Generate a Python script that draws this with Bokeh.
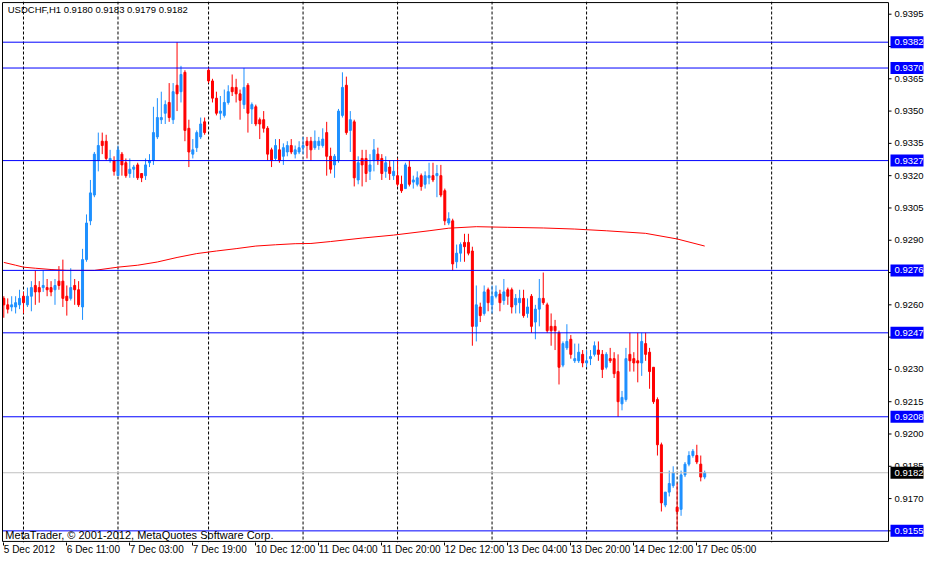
from bokeh.plotting import figure
from bokeh.models import Range1d, FixedTicker, Span, Label, ColumnDataSource
from bokeh.core.properties import value
from bokeh.embed import file_html
from bokeh.resources import INLINE

symbol = "USDCHF,H1"

opens = [0.9263, 0.9260, 0.9259, 0.9259, 0.9260, 0.9264, 0.9260, 0.9264, 0.9269, 0.9268,
         0.9268, 0.9268, 0.9268, 0.9267, 0.9271, 0.9271, 0.9264, 0.9263, 0.9269, 0.9267,
         0.9259, 0.9281, 0.9299, 0.9311, 0.9327, 0.9336, 0.9336, 0.9327, 0.9327, 0.9320,
         0.9330, 0.9326, 0.9321, 0.9323, 0.9325, 0.9321, 0.9320, 0.9326, 0.9327, 0.9338,
         0.9346, 0.9349, 0.9354, 0.9346, 0.9362, 0.9359, 0.9368, 0.9342, 0.9330, 0.9333,
         0.9338, 0.9345, 0.9369, 0.9364, 0.9356, 0.9349, 0.9348, 0.9354, 0.9361, 0.9361,
         0.9358, 0.9353, 0.9362, 0.9351, 0.9352, 0.9346, 0.9346, 0.9342, 0.9332, 0.9328,
         0.9332, 0.9329, 0.9331, 0.9334, 0.9330, 0.9331, 0.9333, 0.9336, 0.9336, 0.9333,
         0.9334, 0.9334, 0.9340, 0.9329, 0.9325, 0.9327, 0.9348, 0.9362, 0.9341, 0.9345,
         0.9318, 0.9328, 0.9328, 0.9322, 0.9327, 0.9330, 0.9328, 0.9322, 0.9324, 0.9320,
         0.9320, 0.9316, 0.9314, 0.9324, 0.9317, 0.9316, 0.9320, 0.9316, 0.9319, 0.9320,
         0.9320, 0.9320, 0.9313, 0.9298, 0.9299, 0.9280, 0.9284, 0.9289, 0.9289, 0.9285,
         0.9250, 0.9259, 0.9256, 0.9267, 0.9260, 0.9264, 0.9265, 0.9262, 0.9267, 0.9267,
         0.9260, 0.9261, 0.9263, 0.9256, 0.9264, 0.9252, 0.9258, 0.9263, 0.9260, 0.9250,
         0.9250, 0.9247, 0.9232, 0.9240, 0.9244, 0.9234, 0.9234, 0.9237, 0.9233, 0.9235,
         0.9237, 0.9239, 0.9237, 0.9231, 0.9235, 0.9235, 0.9229, 0.9214, 0.9216, 0.9237,
         0.9235, 0.9234, 0.9233, 0.9242, 0.9238, 0.9231, 0.9216, 0.9195, 0.9167, 0.9173,
         0.9176, 0.9166, 0.9165, 0.9181, 0.9186, 0.9190, 0.9190, 0.9186, 0.9180]

highs = [0.9264, 0.9263, 0.9264, 0.9264, 0.9267, 0.9266, 0.9268, 0.9271, 0.9276, 0.9271,
         0.9276, 0.9272, 0.9271, 0.9272, 0.9278, 0.9281, 0.9269, 0.9277, 0.9272, 0.9271,
         0.9286, 0.9302, 0.9318, 0.9331, 0.9340, 0.9340, 0.9339, 0.9332, 0.9329, 0.9334,
         0.9331, 0.9328, 0.9328, 0.9325, 0.9326, 0.9321, 0.9328, 0.9330, 0.9352, 0.9356,
         0.9359, 0.9355, 0.9363, 0.9363, 0.9382, 0.9371, 0.9369, 0.9346, 0.9337, 0.9341,
         0.9347, 0.9347, 0.9370, 0.9365, 0.9359, 0.9357, 0.9360, 0.9362, 0.9367, 0.9365,
         0.9360, 0.9370, 0.9363, 0.9354, 0.9353, 0.9347, 0.9350, 0.9343, 0.9333, 0.9337,
         0.9337, 0.9335, 0.9336, 0.9337, 0.9334, 0.9336, 0.9338, 0.9338, 0.9338, 0.9341,
         0.9338, 0.9342, 0.9345, 0.9333, 0.9330, 0.9351, 0.9368, 0.9366, 0.9350, 0.9346,
         0.9329, 0.9332, 0.9332, 0.9330, 0.9337, 0.9333, 0.9330, 0.9329, 0.9327, 0.9327,
         0.9328, 0.9320, 0.9326, 0.9327, 0.9320, 0.9322, 0.9321, 0.9322, 0.9326, 0.9326,
         0.9325, 0.9325, 0.9314, 0.9303, 0.9300, 0.9288, 0.9289, 0.9293, 0.9293, 0.9287,
         0.9269, 0.9261, 0.9269, 0.9268, 0.9269, 0.9269, 0.9267, 0.9272, 0.9268, 0.9268,
         0.9265, 0.9267, 0.9267, 0.9263, 0.9265, 0.9260, 0.9272, 0.9275, 0.9261, 0.9256,
         0.9253, 0.9248, 0.9243, 0.9251, 0.9246, 0.9242, 0.9242, 0.9239, 0.9239, 0.9239,
         0.9243, 0.9243, 0.9239, 0.9238, 0.9240, 0.9238, 0.9237, 0.9220, 0.9240, 0.9247,
         0.9238, 0.9247, 0.9247, 0.9247, 0.9240, 0.9231, 0.9217, 0.9196, 0.9173, 0.9183,
         0.9185, 0.9177, 0.9183, 0.9187, 0.9192, 0.9193, 0.9195, 0.9190, 0.9183]

lows = [0.9254, 0.9256, 0.9257, 0.9256, 0.9258, 0.9256, 0.9259, 0.9257, 0.9260, 0.9261,
        0.9266, 0.9264, 0.9264, 0.9260, 0.9267, 0.9259, 0.9255, 0.9262, 0.9260, 0.9259,
        0.9253, 0.9280, 0.9297, 0.9310, 0.9322, 0.9330, 0.9327, 0.9326, 0.9320, 0.9320,
        0.9320, 0.9319, 0.9319, 0.9319, 0.9318, 0.9317, 0.9318, 0.9324, 0.9325, 0.9337,
        0.9344, 0.9344, 0.9345, 0.9344, 0.9350, 0.9354, 0.9336, 0.9324, 0.9328, 0.9331,
        0.9337, 0.9339, 0.9363, 0.9354, 0.9348, 0.9346, 0.9347, 0.9353, 0.9357, 0.9354,
        0.9346, 0.9351, 0.9340, 0.9344, 0.9343, 0.9337, 0.9340, 0.9327, 0.9324, 0.9327,
        0.9326, 0.9325, 0.9329, 0.9330, 0.9328, 0.9330, 0.9330, 0.9328, 0.9327, 0.9332,
        0.9332, 0.9333, 0.9320, 0.9321, 0.9319, 0.9326, 0.9347, 0.9339, 0.9331, 0.9315,
        0.9316, 0.9315, 0.9317, 0.9318, 0.9322, 0.9325, 0.9318, 0.9319, 0.9318, 0.9318,
        0.9315, 0.9312, 0.9314, 0.9315, 0.9314, 0.9315, 0.9313, 0.9314, 0.9316, 0.9317,
        0.9310, 0.9310, 0.9297, 0.9297, 0.9276, 0.9277, 0.9280, 0.9280, 0.9283, 0.9241,
        0.9243, 0.9252, 0.9255, 0.9257, 0.9256, 0.9263, 0.9257, 0.9260, 0.9260, 0.9256,
        0.9256, 0.9256, 0.9254, 0.9254, 0.9247, 0.9244, 0.9250, 0.9260, 0.9247, 0.9241,
        0.9239, 0.9223, 0.9231, 0.9239, 0.9235, 0.9233, 0.9233, 0.9231, 0.9231, 0.9232,
        0.9236, 0.9234, 0.9226, 0.9230, 0.9233, 0.9226, 0.9208, 0.9211, 0.9215, 0.9229,
        0.9229, 0.9224, 0.9227, 0.9234, 0.9221, 0.9214, 0.9190, 0.9164, 0.9166, 0.9171,
        0.9175, 0.9155, 0.9162, 0.9180, 0.9185, 0.9189, 0.9186, 0.9178, 0.9179]

closes = [0.9260, 0.9258, 0.9260, 0.9261, 0.9263, 0.9261, 0.9264, 0.9268, 0.9266, 0.9266,
          0.9269, 0.9267, 0.9266, 0.9269, 0.9269, 0.9263, 0.9262, 0.9268, 0.9267, 0.9260,
          0.9281, 0.9298, 0.9312, 0.9330, 0.9334, 0.9334, 0.9328, 0.9328, 0.9322, 0.9332,
          0.9325, 0.9320, 0.9323, 0.9324, 0.9319, 0.9319, 0.9325, 0.9327, 0.9340, 0.9347,
          0.9347, 0.9353, 0.9347, 0.9359, 0.9358, 0.9367, 0.9341, 0.9331, 0.9332, 0.9340,
          0.9344, 0.9340, 0.9364, 0.9356, 0.9349, 0.9350, 0.9354, 0.9359, 0.9359, 0.9358,
          0.9355, 0.9361, 0.9349, 0.9353, 0.9344, 0.9344, 0.9342, 0.9330, 0.9327, 0.9334,
          0.9327, 0.9333, 0.9334, 0.9331, 0.9332, 0.9333, 0.9334, 0.9334, 0.9332, 0.9336,
          0.9336, 0.9337, 0.9329, 0.9323, 0.9329, 0.9350, 0.9361, 0.9340, 0.9346, 0.9319,
          0.9326, 0.9325, 0.9321, 0.9325, 0.9332, 0.9327, 0.9321, 0.9326, 0.9321, 0.9322,
          0.9316, 0.9313, 0.9325, 0.9316, 0.9318, 0.9319, 0.9315, 0.9320, 0.9320, 0.9318,
          0.9321, 0.9311, 0.9299, 0.9300, 0.9279, 0.9284, 0.9288, 0.9287, 0.9284, 0.9250,
          0.9260, 0.9255, 0.9266, 0.9261, 0.9264, 0.9266, 0.9261, 0.9266, 0.9264, 0.9259,
          0.9263, 0.9263, 0.9255, 0.9259, 0.9250, 0.9258, 0.9263, 0.9261, 0.9248, 0.9248,
          0.9248, 0.9231, 0.9242, 0.9243, 0.9237, 0.9235, 0.9238, 0.9233, 0.9234, 0.9236,
          0.9241, 0.9237, 0.9230, 0.9237, 0.9234, 0.9228, 0.9215, 0.9217, 0.9235, 0.9234,
          0.9233, 0.9233, 0.9243, 0.9237, 0.9229, 0.9215, 0.9195, 0.9168, 0.9173, 0.9177,
          0.9182, 0.9164, 0.9181, 0.9186, 0.9190, 0.9192, 0.9187, 0.9180, 0.9182]

# moving average read at selected bars
ma_bars = [0, 3, 5, 8, 12, 16, 20, 23, 27, 29, 34, 39, 44, 49, 54, 59, 64, 69, 74, 78,
           83, 91, 99, 108, 113, 120, 128, 137, 145, 153, 163, 171, 178]
ma_values = [0.92797, 0.92784, 0.92775, 0.92770, 0.92764, 0.92760, 0.92760, 0.92760, 0.92770,
             0.92775, 0.92784, 0.92799, 0.92820, 0.92838, 0.92850, 0.92861, 0.92873, 0.92879,
             0.92884, 0.92885, 0.92894, 0.92910, 0.92924, 0.92944, 0.92956, 0.92963, 0.92960,
             0.92957, 0.92952, 0.92944, 0.92932, 0.92906, 0.92873]

level_prices = [0.9382, 0.9370, 0.9327, 0.9276, 0.9247, 0.9208, 0.9155]
current_price = 0.9182

price_ticks = [0.9155, 0.9170, 0.9185, 0.9200, 0.9215, 0.9230, 0.9245, 0.9260, 0.9275,
               0.9290, 0.9305, 0.9320, 0.9335, 0.9350, 0.9365, 0.9380, 0.9395]
price_labels = [0.9170, 0.9185, 0.9200, 0.9215, 0.9230, 0.9260, 0.9290, 0.9305,
                0.9320, 0.9335, 0.9350, 0.9365, 0.9395]
date_ticks = [0, 16, 32, 48, 64, 80, 96, 112, 128, 144, 160, 176]
date_labels = ["5 Dec 2012", "6 Dec 11:00", "7 Dec 03:00", "7 Dec 19:00", "10 Dec 12:00",
               "11 Dec 04:00", "11 Dec 20:00", "12 Dec 12:00", "13 Dec 04:00",
               "13 Dec 20:00", "14 Dec 12:00", "17 Dec 05:00"]
day_bars = [5, 29, 52, 76, 100, 124, 148, 171, 195]

FONT = "Liberation Sans"
UP = "#1E90FF"
DOWN = "#FF0000"
LEVEL = "#0000FF"

idx = list(range(len(opens)))
colors = [UP if c >= o else DOWN for o, c in zip(opens, closes)]
src = ColumnDataSource(dict(
    x=idx,
    top=[max(o, c) for o, c in zip(opens, closes)],
    bottom=[min(o, c) for o, c in zip(opens, closes)],
    high=highs, low=lows, color=colors,
))

# chart box (in data units) and the price-scale strip to its right
X0, X1 = -0.33, 224.68
Y0, Y1 = 0.91501, 0.94004
PX = 3.9376            # pixels per bar
XR = X1 + 36 / PX      # right end of the frame (price strip is 36 px wide)
DY = 0.00005           # about one pixel of price

p = figure(width=924, height=563,
           x_range=Range1d(X0 - 1 / PX, XR), y_range=Range1d(Y0 - DY, Y1 + DY),
           output_backend="svg", toolbar_location=None, y_axis_location=None,
           min_border_left=1, min_border_top=1, min_border_right=0, min_border_bottom=16,
           background_fill_color="white", border_fill_color="white",
           outline_line_color=None)
p.xgrid.visible = False
p.ygrid.visible = False

for d in day_bars:
    p.add_layout(Span(location=d, dimension="height", line_color="black", line_width=1,
                      line_dash="3 2", level="underlay"))

p.segment(x0="x", y0="low", x1="x", y1="high", line_color="color", line_width=1, source=src)
p.vbar(x="x", top="top", bottom="bottom", width=0.5, fill_color="color",
       line_color="color", line_width=1, source=src)

p.line(ma_bars, ma_values, line_color="#FF0000", line_width=1)

# current price and level lines across the chart box
p.segment(x0=[X0], y0=[current_price], x1=[X1], y1=[current_price], line_color="#C0C0C0", line_width=1)
p.segment(x0=[X0] * len(level_prices), y0=level_prices, x1=[X1] * len(level_prices),
          y1=level_prices, line_color=LEVEL, line_width=1)

# chart box border
p.segment(x0=[X0, X0, X0, X1], y0=[Y0, Y1, Y0, Y0], x1=[X1, X1, X0, X1], y1=[Y0, Y1, Y1, Y1],
          line_color="black", line_width=1)

# price scale on the right of the chart box
p.segment(x0=[X1] * len(price_ticks), y0=price_ticks, x1=[X1 + 3 / PX] * len(price_ticks),
          y1=price_ticks, line_color="black", line_width=1)
p.text(x=[X1 + 6 / PX] * len(price_labels), y=price_labels,
       text=[f"{v:.4f}" for v in price_labels], text_font=value(FONT),
       text_font_size=value("9.5px"), text_color="black", text_align="left",
       text_baseline="middle")

# price tags
p.rect(x=[X1 + 18.5 / PX] * len(level_prices), y=level_prices, width=33, height=12,
       width_units="screen", height_units="screen", fill_color=LEVEL, line_color=None)
p.text(x=[X1 + 6 / PX] * len(level_prices), y=level_prices,
       text=[f"{v:.4f}" for v in level_prices], text_font=value(FONT),
       text_font_size=value("9.5px"), text_color="white", text_align="left",
       text_baseline="middle")
p.rect(x=[X1 + 18.5 / PX], y=[current_price], width=33, height=12,
       width_units="screen", height_units="screen", fill_color="black", line_color=None)
p.text(x=[X1 + 6 / PX], y=[current_price], text=[f"{current_price:.4f}"],
       text_font=value(FONT), text_font_size=value("9.5px"), text_color="white",
       text_align="left", text_baseline="middle")

# time axis
xax = p.xaxis[0]
xax.ticker = FixedTicker(ticks=date_ticks)
xax.major_label_overrides = {t: s for t, s in zip(date_ticks, date_labels)}
xax.major_label_orientation = -1e-6
xax.axis_line_color = None
xax.major_tick_line_color = "black"
xax.minor_tick_line_color = None
xax.major_tick_in = 0
xax.major_tick_out = 3
xax.major_label_standoff = 4
xax.major_label_text_font = FONT
xax.major_label_text_font_size = "10px"
xax.major_label_text_color = "black"

header = f"{symbol}  {opens[-1]:.4f} {highs[-1]:.4f} {lows[-1]:.4f} {closes[-1]:.4f}"
p.add_layout(Label(x=1.0, y=Y1 - 0.00006, text=header, text_font=FONT,
                   text_font_size="9.5px", text_color="black", text_baseline="top"))
p.add_layout(Label(x=0.4, y=Y0 + 0.00003, text="MetaTrader, © 2001-2012, MetaQuotes Software Corp.",
                   text_font=FONT, text_font_size="11px", text_color="black",
                   text_baseline="bottom"))

open("out.html", "w").write(file_html(p, INLINE))
